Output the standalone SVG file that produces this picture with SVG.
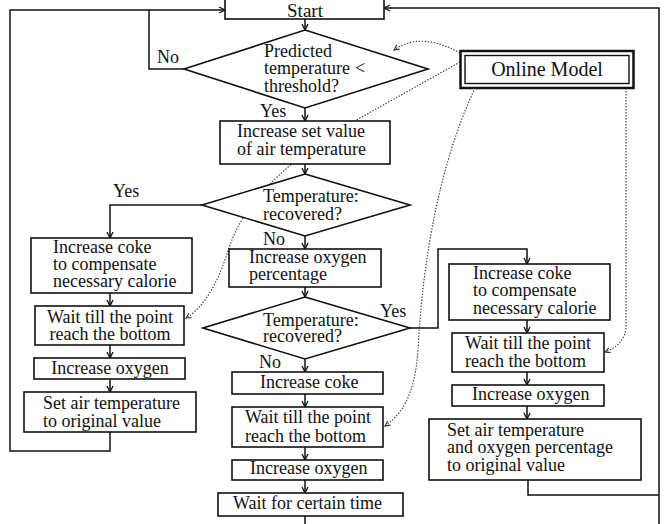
<svg xmlns="http://www.w3.org/2000/svg" width="667" height="524" viewBox="0 0 667 524">
<defs>
<style>
.n{fill:#fff;stroke:#111;stroke-width:1.6}
.c{fill:none;stroke:#111;stroke-width:1.5}
.d{fill:none;stroke:#333;stroke-width:1.1;stroke-dasharray:1.4 1.6}
text{font-family:"Liberation Serif","Times New Roman",serif;font-size:18px;fill:#111}
.big{font-size:20px}
</style>
<marker id="a" markerUnits="userSpaceOnUse" markerWidth="9" markerHeight="9" refX="7" refY="4" orient="auto">
<path d="M1,1 L7,4 L1,7" fill="none" stroke="#111" stroke-width="1.3"/>
</marker>
<marker id="ad" markerUnits="userSpaceOnUse" markerWidth="8" markerHeight="8" refX="6" refY="3.5" orient="auto">
<path d="M1,1 L6,3.5 L1,6" fill="none" stroke="#333" stroke-width="1.1"/>
</marker>
</defs>
<rect width="667" height="524" fill="#fff"/>
<g id="connectors">
<path class="d" d="M460 53 Q421 31 394 50" marker-end="url(#ad)"/>
<path class="d" d="M460 62 L360 118 C282 162 244 205 230 245 C219 280 206 306 186 318" marker-end="url(#ad)"/>
<path class="d" d="M475 88 C432 180 421 290 418 350 C415 395 402 414 385 426" marker-end="url(#ad)"/>
<path class="d" d="M626 88 L626 325 C626 340 616 348 605 352" marker-end="url(#ad)"/>
<path class="c" d="M305 19 V30" marker-end="url(#a)"/>
<path class="c" d="M305 108 V121" marker-end="url(#a)"/>
<path class="c" d="M184 69 H149 V10"/>
<path class="c" d="M110 432 V451 H10 V10 H225" marker-end="url(#a)"/>
<path class="c" d="M305 164 V174" marker-end="url(#a)"/>
<path class="c" d="M202 205 H110 V238" marker-end="url(#a)"/>
<path class="c" d="M110 293 V306" marker-end="url(#a)"/>
<path class="c" d="M110 345 V358" marker-end="url(#a)"/>
<path class="c" d="M110 379 V392" marker-end="url(#a)"/>
<path class="c" d="M305 236 V249" marker-end="url(#a)"/>
<path class="c" d="M305 287 V297" marker-end="url(#a)"/>
<path class="c" d="M410 328 H438 V249 H527 V264" marker-end="url(#a)"/>
<path class="c" d="M305 359 V372" marker-end="url(#a)"/>
<path class="c" d="M305 394 V407" marker-end="url(#a)"/>
<path class="c" d="M305 447 V460" marker-end="url(#a)"/>
<path class="c" d="M305 480 V493" marker-end="url(#a)"/>
<path class="c" d="M305 516 V524"/>
<path class="c" d="M527 320 V333" marker-end="url(#a)"/>
<path class="c" d="M527 372 V385" marker-end="url(#a)"/>
<path class="c" d="M527 406 V419" marker-end="url(#a)"/>
<path class="c" d="M528 480 V495 H659"/>
<path class="c" d="M659 524 V8 H384" marker-end="url(#a)"/>
<text x="157" y="63">No</text>
<text x="260" y="117">Yes</text>
<text x="113" y="197">Yes</text>
<text x="263" y="245">No</text>
<text x="380" y="317">Yes</text>
<text x="259" y="368">No</text>
</g>
<g id="start">
<rect class="n" x="225" y="-2" width="159" height="21"/>
<text x="305" y="16.5" text-anchor="middle" style="font-size:19px">Start</text>
</g>
<g id="d1">
<polygon class="n" points="305,30 428,69 305,108 184,69"/>
<text x="264" y="57">Predicted</text>
<text x="264" y="74">temperature<tspan x="355">&lt;</tspan></text>
<text x="264" y="92">threshold?</text>
</g>
<g id="online">
<rect x="460.5" y="51" width="173" height="37" fill="#fff" stroke="#111" stroke-width="2.5"/>
<rect x="465" y="55.5" width="164" height="28" fill="none" stroke="#111" stroke-width="1.4"/>
<text class="big" x="547" y="76" text-anchor="middle">Online Model</text>
</g>
<g id="b2">
<rect class="n" x="220" y="121" width="170" height="43"/>
<text x="237" y="137">Increase set value</text>
<text x="237" y="155">of air temperature</text>
</g>
<g id="d2">
<polygon class="n" points="305,174 410,205 305,236 202,205"/>
<text x="263" y="202">Temperature:</text>
<text x="263" y="220">recovered?</text>
</g>
<g id="l1">
<rect class="n" x="31" y="238" width="161" height="55"/>
<text x="53" y="253">Increase coke</text>
<text x="53" y="270">to compensate</text>
<text x="53" y="287">necessary calorie</text>
</g>
<g id="l2">
<rect class="n" x="35" y="306" width="149" height="39"/>
<text x="110" y="323" text-anchor="middle">Wait till the point</text>
<text x="110" y="340" text-anchor="middle">reach the bottom</text>
</g>
<g id="l3">
<rect class="n" x="34" y="358" width="151" height="21"/>
<text x="110" y="374" text-anchor="middle">Increase oxygen</text>
</g>
<g id="l4">
<rect class="n" x="24" y="392" width="172" height="40"/>
<text x="43" y="409">Set air temperature</text>
<text x="43" y="427">to original value</text>
</g>
<g id="m1">
<rect class="n" x="229" y="249" width="152" height="38"/>
<text x="249" y="263">Increase oxygen</text>
<text x="249" y="280">percentage</text>
</g>
<g id="d3">
<polygon class="n" points="305,297 410,328 305,359 203,328"/>
<text x="263" y="326">Temperature:</text>
<text x="263" y="342">recovered?</text>
</g>
<g id="m2">
<rect class="n" x="232" y="372" width="151" height="22"/>
<text x="260" y="388">Increase coke</text>
</g>
<g id="m3">
<rect class="n" x="232" y="407" width="151" height="40"/>
<text x="245" y="423">Wait till the point</text>
<text x="245" y="442">reach the bottom</text>
</g>
<g id="m4">
<rect class="n" x="232" y="460" width="151" height="20"/>
<text x="250" y="474">Increase oxygen</text>
</g>
<g id="m5">
<rect class="n" x="218" y="493" width="185" height="23"/>
<text x="233" y="509">Wait for certain time</text>
</g>
<g id="r1">
<rect class="n" x="449" y="264" width="161" height="56"/>
<text x="473" y="279">Increase coke</text>
<text x="473" y="296">to compensate</text>
<text x="473" y="314">necessary calorie</text>
</g>
<g id="r2">
<rect class="n" x="452" y="333" width="152" height="39"/>
<text x="465" y="349">Wait till the point</text>
<text x="465" y="367">reach the bottom</text>
</g>
<g id="r3">
<rect class="n" x="452" y="385" width="152" height="21"/>
<text x="472" y="400">Increase oxygen</text>
</g>
<g id="r4">
<rect class="n" x="429" y="419" width="212" height="61"/>
<text x="447" y="436">Set air temperature</text>
<text x="447" y="453">and oxygen percentage</text>
<text x="447" y="471">to original value</text>
</g>
</svg>
